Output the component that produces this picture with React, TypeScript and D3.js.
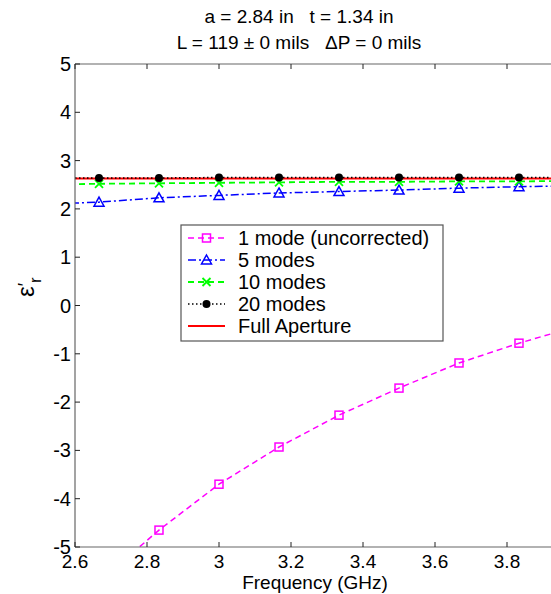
import React from "react";
import * as d3 from "d3";

const freqs = [2.5, 2.6667, 2.8333, 3.0, 3.1667, 3.3333, 3.5, 3.6667, 3.8333, 4.0];
const mode1 = [-7.0, -5.72, -4.65, -3.7, -2.93, -2.27, -1.71, -1.19, -0.78, -0.42];
const mode5 = [2.09, 2.14, 2.23, 2.28, 2.33, 2.36, 2.39, 2.43, 2.46, 2.48];
const mode10 = [2.5, 2.52, 2.53, 2.54, 2.55, 2.56, 2.56, 2.57, 2.57, 2.58];
const mode20 = [2.64, 2.64, 2.64, 2.65, 2.65, 2.65, 2.65, 2.65, 2.65, 2.65];
const fullAp = [2.63, 2.63, 2.63, 2.63, 2.63, 2.63, 2.63, 2.63, 2.63, 2.63];
const xTicks = [2.6, 2.8, 3.0, 3.2, 3.4, 3.6, 3.8];
const yTicks = [-5, -4, -3, -2, -1, 0, 1, 2, 3, 4, 5];
const legendLabels = ["1 mode (uncorrected)", "5 modes", "10 modes", "20 modes", "Full Aperture"];
const titleLine1 = "a = 2.84 in   t = 1.34 in";
const titleLine2 = "L = 119 \u00b1 0 mils   \u0394P = 0 mils";
const xLabel = "Frequency (GHz)";

const W = 551;
const H = 594;
const L = 75, R = 579, T = 64, B = 547;
const FONT = "Arial, 'Liberation Sans', sans-serif";

type Series = {
  values: number[];
  color: string;
  dash: string;
  marker: "square" | "triangle" | "x" | "dot" | "none";
  width: number;
};

const series: Series[] = [
  { values: mode1, color: "#ff00ff", dash: "6,4", marker: "square", width: 1.5 },
  { values: mode5, color: "#0000ff", dash: "8,3,2,3", marker: "triangle", width: 1.5 },
  { values: mode10, color: "#00ff00", dash: "6,4", marker: "x", width: 1.8 },
  { values: fullAp, color: "#ff0000", dash: "", marker: "none", width: 2 },
  { values: mode20, color: "#000000", dash: "1.5,2.5", marker: "dot", width: 1.5 },
];
const legendOrder = [0, 1, 2, 4, 3];

function Marker({ kind, x, y, color }: { kind: string; x: number; y: number; color: string }) {
  if (kind === "square")
    return <rect x={x - 4} y={y - 4} width={8} height={8} fill="none" stroke={color} strokeWidth={1.5} />;
  if (kind === "triangle")
    return (
      <path
        d={`M${x},${y - 5}L${x + 5},${y + 4}L${x - 5},${y + 4}Z`}
        fill="none"
        stroke={color}
        strokeWidth={1.5}
      />
    );
  if (kind === "x")
    return (
      <path
        d={`M${x - 4},${y - 4}L${x + 4},${y + 4}M${x - 4},${y + 4}L${x + 4},${y - 4}`}
        stroke={color}
        strokeWidth={1.8}
      />
    );
  if (kind === "dot") return <circle cx={x} cy={y} r={4} fill={color} />;
  return null;
}

export default function App() {
  const x = d3.scaleLinear().domain([2.6, 4.0]).range([L, R]);
  const y = d3.scaleLinear().domain([-5, 5]).range([B, T]);
  const line = d3
    .line<number>()
    .x((_, i) => x(freqs[i]))
    .y((d) => y(d));

  const legX = 181, legY = 225, legW = 262, legH = 116, rowH = 22;

  return (
    <svg
      width={W}
      height={H}
      style={{ position: "absolute", left: 0, top: 0, background: "#fff" }}
      fontFamily={FONT}
    >
      <defs>
        <clipPath id="plotClip">
          <rect x={L} y={T} width={R - L} height={B - T} />
        </clipPath>
      </defs>
      <rect x={0} y={0} width={W} height={H} fill="#fff" />
      <text x={299} y={23} textAnchor="middle" fontSize={19} style={{ whiteSpace: "pre" }}>
        {titleLine1}
      </text>
      <text x={299} y={49} textAnchor="middle" fontSize={19} style={{ whiteSpace: "pre" }}>
        {titleLine2}
      </text>

      <g clipPath="url(#plotClip)">
        {series.map((s, si) => (
          <g key={si}>
            <path
              d={line(s.values) || ""}
              fill="none"
              stroke={s.color}
              strokeWidth={s.width}
              strokeDasharray={s.dash || undefined}
            />
            {s.values.map((v, i) => (
              <Marker key={i} kind={s.marker} x={x(freqs[i])} y={y(v)} color={s.color} />
            ))}
          </g>
        ))}
      </g>

      {/* frame */}
      <line x1={L} y1={T} x2={R} y2={T} stroke="#666" strokeWidth={1.2} />
      <line x1={L} y1={B} x2={R} y2={B} stroke="#666" strokeWidth={1.2} />
      <line x1={L} y1={T} x2={L} y2={B} stroke="#666" strokeWidth={1.2} />
      <line x1={R} y1={T} x2={R} y2={B} stroke="#666" strokeWidth={1.2} />

      {xTicks.map((t) => (
        <g key={"x" + t}>
          <line x1={x(t)} x2={x(t)} y1={B} y2={B - 5} stroke="#222" strokeWidth={1} />
          <line x1={x(t)} x2={x(t)} y1={T} y2={T + 5} stroke="#222" strokeWidth={1} />
          <text x={x(t)} y={568} textAnchor="middle" fontSize={19}>
            {d3.format("~g")(t)}
          </text>
        </g>
      ))}
      {yTicks.map((t) => (
        <g key={"y" + t}>
          <line x1={L} x2={L + 5} y1={y(t)} y2={y(t)} stroke="#222" strokeWidth={1} />
          <line x1={R} x2={R - 5} y1={y(t)} y2={y(t)} stroke="#222" strokeWidth={1} />
          <text x={71} y={y(t) + 7} textAnchor="end" fontSize={20}>
            {t}
          </text>
        </g>
      ))}

      <text x={315} y={589} textAnchor="middle" fontSize={19}>
        {xLabel}
      </text>
      <text transform="translate(34,297) rotate(-90)" fontSize={24}>
        ε
        <tspan fontSize={18} dy={-3}>
          ′
        </tspan>
        <tspan fontSize={17} dy={10}>
          r
        </tspan>
      </text>

      {/* legend */}
      <rect x={legX} y={legY} width={legW} height={legH} fill="#fff" stroke="#555" strokeWidth={1.2} />
      {legendOrder.map((si, row) => {
        const s = series[si];
        const cy = legY + 13 + row * rowH;
        return (
          <g key={"leg" + row}>
            <line
              x1={188}
              x2={225}
              y1={cy}
              y2={cy}
              stroke={s.color}
              strokeWidth={s.width}
              strokeDasharray={s.dash || undefined}
            />
            <Marker kind={s.marker} x={206.5} y={cy} color={s.color} />
            <text x={238} y={cy + 7} fontSize={20}>
              {legendLabels[row]}
            </text>
          </g>
        );
      })}
    </svg>
  );
}
